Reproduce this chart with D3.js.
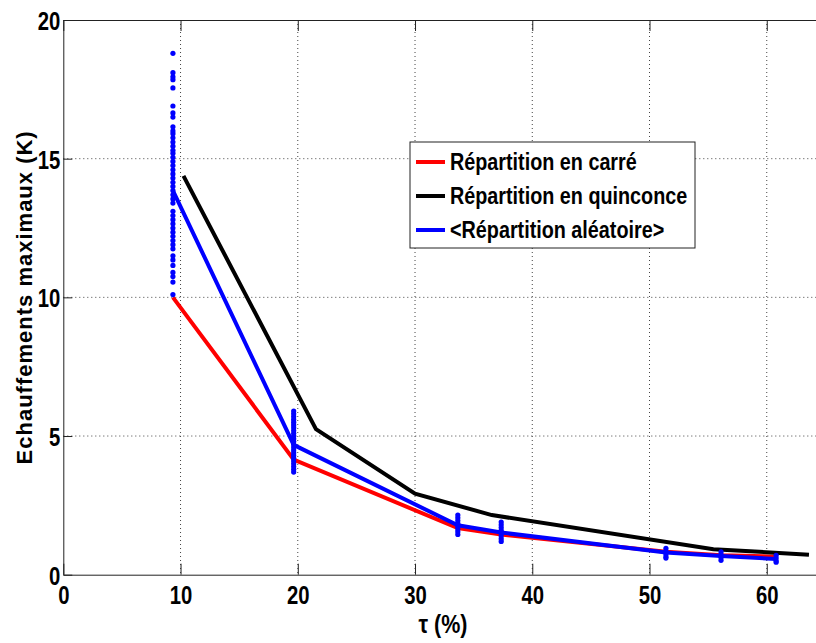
<!DOCTYPE html>
<html>
<head>
<meta charset="utf-8">
<script src="https://cdn.jsdelivr.net/npm/d3@7"></script>
<style>
    body { margin: 0; background: #fff; }
    text { font-family: "Liberation Sans", Arial, sans-serif; font-weight: bold; }
</style>
</head>
<body>
<div id="chart"></div>
<script>
// Data
var xTicks = [0, 10, 20, 30, 40, 50, 60];
var yTicks = [0, 5, 10, 15, 20];

var carreX = [9.35, 19.65, 33.65, 37.35, 51.4, 56.1, 60.8];
var carreY = [10.0, 4.15, 1.68, 1.45, 0.83, 0.7, 0.65];

var quinX = [10.25, 21.55, 30.0, 36.55, 55.45, 63.6];
var quinY = [14.38, 5.25, 2.92, 2.15, 0.92, 0.72];

var aleaX = [9.35, 19.65, 33.65, 37.35, 51.4, 56.1, 60.8];
var aleaY = [13.85, 4.68, 1.78, 1.52, 0.8, 0.67, 0.57];

// individual random realisations (blue dots), one column per tau
var tirageX = [9.35, 19.65, 33.65, 37.35, 51.4, 56.1, 60.8];
var tirageY = [
    [18.8, 18.1, 17.95, 17.85, 17.55, 16.9, 16.65, 16.5, 16.15, 16.0, 15.9, 15.75, 15.6, 15.45, 15.3, 15.2, 15.05, 14.9, 14.75, 14.6, 14.45, 14.3, 14.15, 14.0, 13.85, 13.7, 13.55, 13.4, 13.1, 12.95, 12.8, 12.65, 12.5, 12.35, 12.2, 12.05, 11.9, 11.75, 11.5, 11.35, 11.15, 10.9, 10.75, 10.55, 10.1],
    [5.9, 5.8, 5.7, 5.6, 5.5, 5.4, 5.3, 5.2, 5.1, 5.0, 4.9, 4.8, 4.7, 4.6, 4.5, 4.4, 4.3, 4.2, 4.1, 4.0, 3.9, 3.8, 3.7],
    [2.15, 2.05, 1.95, 1.85, 1.75, 1.65, 1.55, 1.45],
    [1.9, 1.8, 1.7, 1.6, 1.5, 1.4, 1.3, 1.2],
    [0.95, 0.85, 0.75, 0.65, 0.6],
    [0.82, 0.72, 0.62, 0.52],
    [0.7, 0.6, 0.5, 0.45]
];

var legendLabels = ["Répartition en carré", "Répartition en quinconce", "<Répartition aléatoire>"];
var legendColors = ["red", "black", "blue"];

function init() {
    var W = 816, H = 643;
    var left = 63.3, top = 20, right = 816, bottom = 574.7;

    var svg = d3.select("#chart")
        .append("svg")
        .attr("width", W)
        .attr("height", H);

    var xScale = d3.scaleLinear().domain([0, 64.2]).range([left, right]);
    var yScale = d3.scaleLinear().domain([0, 20]).range([bottom, top]);

    // grid
    svg.append("g").selectAll("line")
        .data(xTicks.slice(1))
        .enter().append("line")
        .attr("x1", function(d) { return xScale(d); })
        .attr("x2", function(d) { return xScale(d); })
        .attr("y1", top)
        .attr("y2", bottom)
        .attr("stroke", "#444")
        .attr("stroke-dasharray", "1 3");

    svg.append("g").selectAll("line")
        .data(yTicks.slice(1, -1))
        .enter().append("line")
        .attr("x1", left)
        .attr("x2", right)
        .attr("y1", function(d) { return yScale(d); })
        .attr("y2", function(d) { return yScale(d); })
        .attr("stroke", "#444")
        .attr("stroke-dasharray", "1 3");

    // axes (ticks inside like matlab)
    var xAxis = d3.axisBottom(xScale).tickValues(xTicks).tickSizeInner(-11).tickSizeOuter(0).tickPadding(15);
    var gx = svg.append("g")
        .attr("transform", "translate(0," + bottom + ")")
        .call(xAxis);

    var xTop = d3.axisTop(xScale).tickValues(xTicks).tickSizeInner(-11).tickSizeOuter(0).tickFormat("");
    svg.append("g")
        .attr("transform", "translate(0," + top + ")")
        .call(xTop);

    var yAxis = d3.axisLeft(yScale).tickValues(yTicks).tickSizeInner(-9).tickSizeOuter(0).tickPadding(4);
    var gy = svg.append("g")
        .attr("transform", "translate(" + left + ",0)")
        .call(yAxis);

    svg.selectAll(".domain").attr("stroke", "#222");
    svg.selectAll(".tick line").attr("stroke", "#222");
    svg.selectAll(".tick text")
        .attr("fill", "#000")
        .attr("transform", "scale(0.78,1)")
        .style("font-size", "26px");
    gx.selectAll(".tick text").attr("dy", "0.55em");
    gy.selectAll(".tick text").attr("dy", "0.36em");

    // lines
    var line = d3.line()
        .x(function(d) { return xScale(d[0]); })
        .y(function(d) { return yScale(d[1]); });

    svg.append("path")
        .datum(d3.zip(carreX, carreY))
        .attr("d", line)
        .attr("fill", "none")
        .attr("stroke", "red")
        .attr("stroke-width", 4);

    svg.append("path")
        .datum(d3.zip(quinX, quinY))
        .attr("d", line)
        .attr("fill", "none")
        .attr("stroke", "black")
        .attr("stroke-width", 4);

    svg.append("path")
        .datum(d3.zip(aleaX, aleaY))
        .attr("d", line)
        .attr("fill", "none")
        .attr("stroke", "blue")
        .attr("stroke-width", 4);

    // blue dots
    var dots = [];
    tirageX.forEach(function(x, i) {
        tirageY[i].forEach(function(y) { dots.push([x, y]); });
    });
    svg.append("g").selectAll("circle")
        .data(dots)
        .enter().append("circle")
        .attr("cx", function(d) { return xScale(d[0]); })
        .attr("cy", function(d) { return yScale(d[1]); })
        .attr("r", 2.6)
        .attr("fill", "blue");

    // axis labels
    svg.append("text")
        .attr("transform", "translate(443,633) scale(0.86,1)")
        .attr("text-anchor", "middle")
        .style("font-size", "25px")
        .text("τ (%)");

    svg.append("text")
        .attr("transform", "translate(32," + (top + bottom) / 2 + ") rotate(-90)")
        .attr("text-anchor", "middle")
        .style("font-size", "22px")
        .style("letter-spacing", "1px")
        .text("Echauffements maximaux (K)");

    // legend
    var lg = svg.append("g").attr("transform", "translate(410,142)");
    lg.append("rect")
        .attr("width", 285)
        .attr("height", 106)
        .attr("fill", "#fff")
        .attr("stroke", "#222");

    var row = lg.selectAll(".row")
        .data(legendLabels)
        .enter().append("g")
        .attr("transform", function(d, i) { return "translate(0," + (20 + i * 34) + ")"; });
    row.append("line")
        .attr("x1", 6).attr("x2", 35)
        .attr("stroke", function(d, i) { return legendColors[i]; })
        .attr("stroke-width", 4);
    row.append("text")
        .attr("transform", "translate(40,0) scale(0.86,1)")
        .attr("dy", "0.36em")
        .style("font-size", "23px")
        .text(function(d) { return d; });
}

window.onload = init;
</script>
</body>
</html>
